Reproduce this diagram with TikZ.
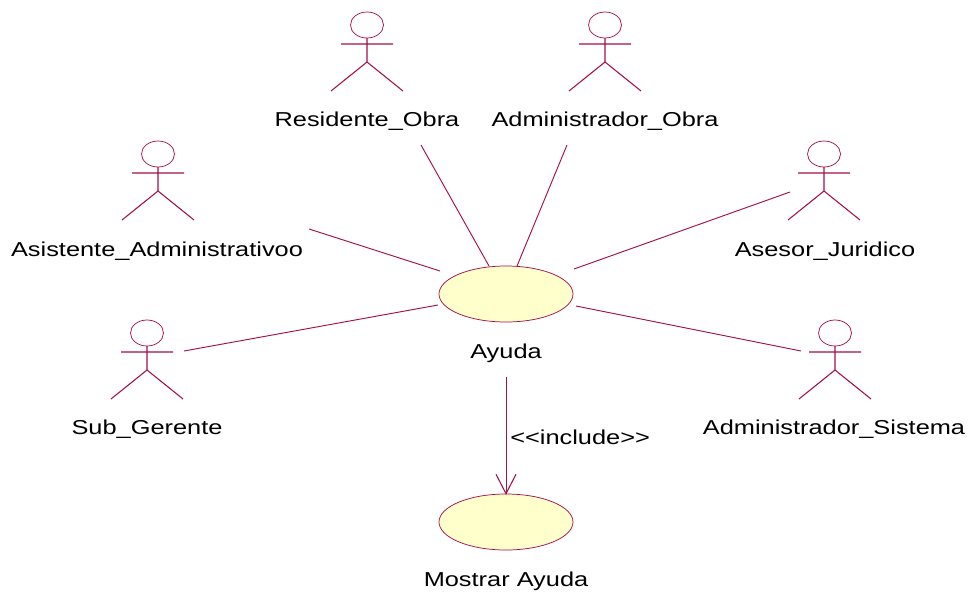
\documentclass[tikz,border=0pt]{standalone}
\usepackage{fontspec}
\setmainfont[FakeStretch=1.26]{Liberation Sans}
\usetikzlibrary{shapes.geometric,arrows.meta}
\definecolor{umlline}{HTML}{A50F4B}
\definecolor{umlfill}{HTML}{FFFFCB}
\tikzset{
  x=0.75pt,y=-0.75pt,
  lbl/.style={inner sep=0pt,font=\fontsize{15.1}{16}\selectfont,text=black,anchor=center},
  uc/.style={ellipse,draw=umlline,fill=umlfill,line width=0.55pt,minimum width=100.5pt,minimum height=42pt,inner sep=0pt},
  conn/.style={draw=umlline,line width=0.7pt},
  actorline/.style={draw=umlline,line width=0.8pt},
  headline/.style={draw=umlline,line width=0.55pt},
  actorfig/.pic={
    \draw[headline] (0,13) ellipse [x radius=16.5,y radius=13];
    \draw[actorline] (0,26) -- (0,50) (-26,32) -- (26,32) (-36,79) -- (0,50) -- (36,79);
  }
}
\begin{document}
\begin{tikzpicture}
\useasboundingbox (0,0) rectangle (973,593);
\pic at (367,12) {actorfig};
\pic at (605,12) {actorfig};
\pic at (158,141) {actorfig};
\pic at (824,141) {actorfig};
\pic at (147,320) {actorfig};
\pic at (835,320) {actorfig};
\node[lbl] (residente) at (367,121) {Residente\_Obra};
\node[lbl] (adminobra) at (605,121) {Administrador\_Obra};
\node[lbl] (asistente) at (157,251) {Asistente\_Administrativoo};
\node[lbl] (asesor) at (825,251) {Asesor\_Juridico};
\node[lbl] (subgerente) at (147,429) {Sub\_Gerente};
\node[lbl] (adminsis) at (834,429) {Administrador\_Sistema};
\node[uc] (ayuda) at (506,294) {};
\node[uc] (mostrar) at (506,522) {};
\node[lbl] (ayudalbl) at (506,353) {Ayuda};
\node[lbl] (mostrarlbl) at (506,581) {Mostrar Ayuda};
\node[lbl,anchor=west] (incl) at (510,437) {<{}<include>{}>};
\coordinate (r1) at (421,145); \coordinate (r2) at (489,266);
\coordinate (o1) at (567,145); \coordinate (o2) at (517,266);
\coordinate (a1) at (309,229); \coordinate (a2) at (440,271);
\coordinate (j1) at (790,192); \coordinate (j2) at (574,269);
\coordinate (s1) at (184,351); \coordinate (s2) at (438,305);
\coordinate (d1) at (801,351); \coordinate (d2) at (576,306);
\coordinate (i1) at (506,377);
\draw[conn] (r1) -- (r2);
\draw[conn] (o1) -- (o2);
\draw[conn] (a1) -- (a2);
\draw[conn] (j1) -- (j2);
\draw[conn] (s1) -- (s2);
\draw[conn] (d1) -- (d2);
\draw[conn,line width=0.55pt] (i1) -- (mostrar.north);
\draw[actorline] ([xshift=-7.5pt,yshift=14.5pt]mostrar.north) -- (mostrar.north) -- ([xshift=7.5pt,yshift=14.5pt]mostrar.north);
\end{tikzpicture}
\end{document}
